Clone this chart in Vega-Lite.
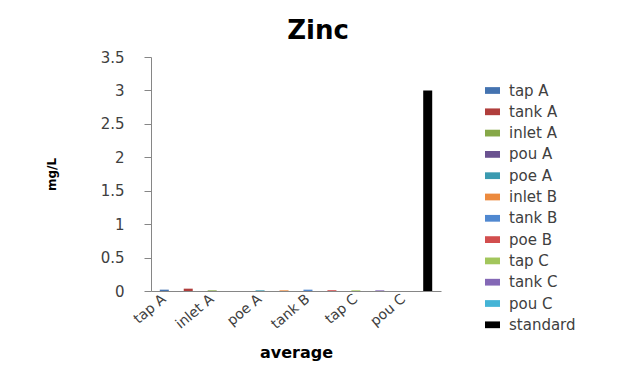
{
  "$schema": "https://vega.github.io/schema/vega-lite/v6.json",
  "width": 290,
  "height": 234,
  "padding": {"left": 45, "top": 18, "right": 5, "bottom": 5},
  "background": "white",
  "title": {"text": "Zinc", "fontSize": 26, "font": "DejaVu Sans", "fontWeight": "bold", "color": "#000000", "anchor": "middle", "dx": 22, "offset": 6},
  "data": {"values": [
    {"site": "tap A", "value": 0.02},
    {"site": "tank A", "value": 0.035},
    {"site": "inlet A", "value": 0.01},
    {"site": "pou A", "value": 0.0},
    {"site": "poe A", "value": 0.01},
    {"site": "inlet B", "value": 0.01},
    {"site": "tank B", "value": 0.02},
    {"site": "poe B", "value": 0.012},
    {"site": "tap C", "value": 0.01},
    {"site": "tank C", "value": 0.01},
    {"site": "pou C", "value": 0.0},
    {"site": "standard", "value": 3}
  ]},
  "mark": {"type": "bar"},
  "encoding": {
    "x": {
      "field": "site", "type": "nominal",
      "sort": ["tap A","tank A","inlet A","pou A","poe A","inlet B","tank B","poe B","tap C","tank C","pou C","standard"],
      "scale": {"paddingInner": 0.624, "paddingOuter": 0.367},
      "axis": {
        "title": "average", "titleFont": "DejaVu Sans", "titleFontSize": 16, "titleFontWeight": "bold", "titleColor": "#000000", "titlePadding": 13,
        "values": ["tap A","inlet A","poe A","tank B","tap C","pou C"],
        "labelAngle": -40, "labelAlign": "right", "labelBaseline": "middle", "labelFont": "DejaVu Sans", "labelFontSize": 14, "labelColor": "#404040", "labelPadding": 6,
        "ticks": false, "domainColor": "#868686", "grid": false
      }
    },
    "y": {
      "field": "value", "type": "quantitative",
      "scale": {"domain": [0, 3.5]},
      "axis": {
        "title": "mg/L", "titleFont": "DejaVu Sans", "titleFontSize": 12, "titleFontWeight": "bold", "titleColor": "#000000", "titlePadding": 42,
        "values": [0, 0.5, 1, 1.5, 2, 2.5, 3, 3.5], "format": "~g",
        "labelFont": "DejaVu Sans", "labelFontSize": 15, "labelColor": "#404040", "labelPadding": 20,
        "tickSize": 7, "tickColor": "#868686", "domainColor": "#868686", "grid": false
      }
    },
    "color": {
      "field": "site", "type": "nominal",
      "scale": {
        "domain": ["tap A","tank A","inlet A","pou A","poe A","inlet B","tank B","poe B","tap C","tank C","pou C","standard"],
        "range": ["#4473B0","#B03E3C","#86A848","#6A5290","#3A9AB0","#EC8A3E","#5088D0","#D24E4E","#A2C65C","#8468B6","#44B4D6","#000000"]
      },
      "legend": {
        "title": null, "orient": "none", "legendX": 334, "legendY": 26,
        "symbolType": "M-1,-0.45H1V0.45H-1Z", "symbolSize": 225, "symbolStrokeWidth": 0,
        "labelFont": "DejaVu Sans", "labelFontSize": 15, "labelColor": "#404040", "labelOffset": 9,
        "rowPadding": 5.3
      }
    }
  },
  "config": {"view": {"stroke": null}}
}
